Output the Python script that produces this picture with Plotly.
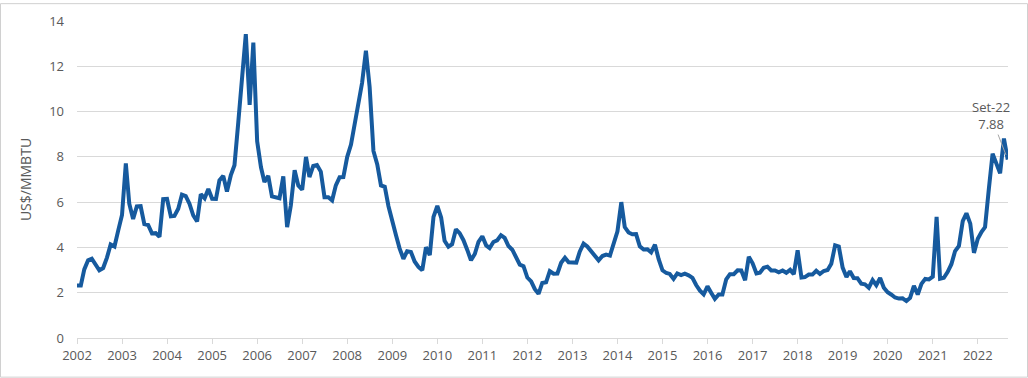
import pandas as pd
import plotly.graph_objects as go

start_month = "2002-01-01"
prices = [
    2.32, 2.32, 3.03, 3.43, 3.50, 3.26, 2.99, 3.09, 3.55, 4.13, 4.04, 4.74,
    5.43, 7.71, 5.93, 5.26, 5.81, 5.82, 5.03, 4.99, 4.62, 4.63, 4.47, 6.13,
    6.14, 5.37, 5.39, 5.71, 6.33, 6.27, 5.93, 5.41, 5.15, 6.35, 6.17, 6.58,
    6.15, 6.14, 6.96, 7.16, 6.47, 7.18, 7.63, 9.53, 11.75, 13.42, 10.30, 13.05,
    8.69, 7.54, 6.89, 7.16, 6.25, 6.21, 6.17, 7.14, 4.90, 5.85, 7.41, 6.73,
    6.55, 8.00, 7.11, 7.60, 7.64, 7.35, 6.22, 6.22, 6.08, 6.74, 7.10, 7.11,
    7.99, 8.54, 9.41, 10.18, 11.27, 12.69, 11.09, 8.26, 7.67, 6.74, 6.68, 5.82,
    5.24, 4.52, 3.96, 3.50, 3.83, 3.80, 3.38, 3.14, 2.99, 4.01, 3.66, 5.35,
    5.83, 5.32, 4.29, 4.03, 4.14, 4.80, 4.63, 4.32, 3.89, 3.43, 3.71, 4.25,
    4.49, 4.09, 3.97, 4.24, 4.31, 4.54, 4.42, 4.06, 3.90, 3.57, 3.24, 3.17,
    2.67, 2.50, 2.17, 1.95, 2.43, 2.46, 2.95, 2.84, 2.85, 3.32, 3.54, 3.34,
    3.33, 3.33, 3.81, 4.17, 4.04, 3.83, 3.62, 3.43, 3.62, 3.68, 3.64, 4.24,
    4.71, 6.00, 4.90, 4.66, 4.58, 4.59, 4.05, 3.91, 3.92, 3.78, 4.12, 3.48,
    2.99, 2.87, 2.83, 2.61, 2.85, 2.78, 2.84, 2.77, 2.66, 2.34, 2.09, 1.93,
    2.28, 1.99, 1.73, 1.92, 1.92, 2.59, 2.82, 2.82, 2.99, 2.98, 2.55, 3.59,
    3.30, 2.85, 2.88, 3.10, 3.15, 2.98, 2.98, 2.90, 2.98, 2.88, 3.01, 2.82,
    3.87, 2.67, 2.69, 2.80, 2.80, 2.97, 2.83, 2.96, 3.00, 3.28, 4.09, 4.04,
    3.11, 2.69, 2.95, 2.65, 2.64, 2.40, 2.37, 2.22, 2.56, 2.33, 2.65, 2.22,
    2.02, 1.91, 1.79, 1.74, 1.75, 1.63, 1.77, 2.30, 1.92, 2.39, 2.61, 2.59,
    2.71, 5.35, 2.62, 2.66, 2.91, 3.26, 3.84, 4.07, 5.16, 5.51, 5.05, 3.76,
    4.38, 4.69, 4.90, 6.60, 8.14, 7.70, 7.28, 8.81, 7.88,
]
months = pd.date_range(start_month, periods=len(prices), freq="MS")
year_ticks = pd.date_range("2002-01-01", "2022-01-01", freq="YS")
year_labels = [str(d.year) for d in year_ticks]
y_ticks = list(range(0, 15, 2))
last_label = "Set-22"

grey = "#595959"
font = "Open Sans, Noto Sans, sans-serif"

fig = go.Figure()
fig.add_trace(go.Scatter(
    x=months, y=prices, mode="lines",
    line=dict(color="#165A9E", width=4),
    hoverinfo="x+y",
))

fig.add_annotation(
    x=months[-1], y=prices[-1],
    text=f"{last_label}<br>{prices[-1]:.2f}",
    showarrow=True, arrowhead=0, arrowwidth=1, arrowcolor="#A6A6A6",
    ax=-17, ay=-44, standoff=5,
    font=dict(family=font, size=13, color=grey),
    align="center",
)

# outer border
L, R, T, B = 77, 20, 18, 40
W, H = 1028, 378
pw, ph = W - L - R, H - T - B
fig.add_shape(
    type="rect", xref="paper", yref="paper",
    x0=(0.5 - L) / pw, x1=(W - 0.5 - L) / pw,
    y0=(ph + T - (H - 0.5)) / ph, y1=(ph + T - 0.5) / ph,
    line=dict(color="#D0D0D0", width=1), fillcolor="rgba(0,0,0,0)",
    layer="above",
)

fig.update_layout(
    width=W, height=H,
    margin=dict(l=L, r=R, t=T, b=B),
    paper_bgcolor="white", plot_bgcolor="white",
    showlegend=False,
    font=dict(family=font, size=13, color=grey),
)
fig.update_xaxes(
    range=[months[0], months[-1] + pd.Timedelta(days=2)],
    tickmode="array", tickvals=year_ticks, ticktext=year_labels,
    showgrid=False, showline=True, linecolor="#D9D9D9", linewidth=1,
    ticks="outside", ticklen=5, tickcolor="#D9D9D9",
    tickfont=dict(size=13, color=grey),
    zeroline=False,
)
fig.update_yaxes(
    range=[0, 14], tickmode="array", tickvals=y_ticks,
    showgrid=True, gridcolor="#D9D9D9", gridwidth=1,
    zeroline=False, showline=False,
    ticks="", ticklabelstandoff=12,
    tickfont=dict(size=13, color=grey),
    title=dict(text="US$/MMBTU", font=dict(size=14, color=grey), standoff=14),
)

fig.write_html(
    "out.html",
    config={"displayModeBar": False},
    post_script="document.body.style.margin='0';document.body.style.overflow='hidden';",
)
